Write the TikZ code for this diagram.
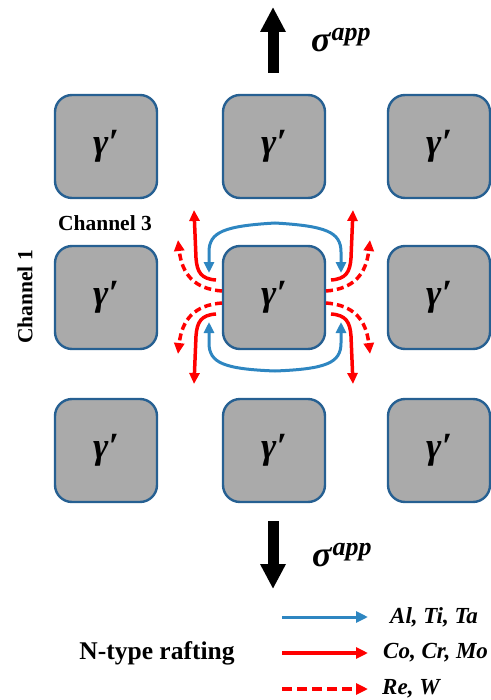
\documentclass[tikz,border=0pt]{standalone}
\usepackage{fontspec}
\setmainfont{Liberation Serif}
\usetikzlibrary{arrows.meta}
\definecolor{grain}{RGB}{170,170,170}
\definecolor{grainedge}{RGB}{38,96,146}
\definecolor{flowblue}{RGB}{46,134,193}
\definecolor{flowred}{RGB}{255,0,0}
\newcommand{\gammaprime}{γ′}
\newcommand{\sigmaapp}{σ\kern1pt\raisebox{0.33em}{\fontsize{26}{26}\selectfont app}}
\tikzset{
  precip/.style={draw=grainedge, line width=2.4pt, fill=grain, rounded corners=17pt,
    minimum width=102pt, minimum height=103pt, inner sep=0pt,
    font=\bfseries\itshape\fontsize{37}{38}\selectfont},
  blueflow/.style={draw=flowblue, line width=3pt, {Triangle[length=11pt,width=10pt]}-{Triangle[length=11pt,width=10pt]}},
  redflow/.style={draw=flowred, line width=3.5pt, -{Triangle[length=11pt,width=10pt]}},
  reddash/.style={redflow, dash pattern=on 7pt off 4pt},
  legblue/.style={draw=flowblue, line width=3pt, -{Triangle[length=12pt,width=11pt]}},
  legred/.style={draw=flowred, line width=3.5pt, -{Triangle[length=12pt,width=11pt]}},
  legdash/.style={legred, dash pattern=on 10pt off 5pt},
  stress/.style={draw=black, line width=11pt, -{Triangle[length=25pt,width=24pt]}},
  chlabel/.style={font=\bfseries\fontsize{21.5}{24}\selectfont, inner sep=0pt},
  leglabel/.style={font=\bfseries\itshape\fontsize{23}{26}\selectfont, inner sep=0pt, anchor=west},
  sigmalabel/.style={font=\bfseries\itshape\fontsize{36}{38}\selectfont, inner sep=0pt, anchor=west}
}
\begin{document}
\begin{tikzpicture}[x=1pt,y=-1pt]
\useasboundingbox (0,0) rectangle (490,700);
% precipitates
\node[precip] (p11) at (106,146.5) {\gammaprime};
\node[precip] (p12) at (274,146.5) {\gammaprime};
\node[precip] (p13) at (439,146.5) {\gammaprime};
\node[precip] (p21) at (106,297.5) {\gammaprime};
\node[precip] (p22) at (274,297.5) {\gammaprime};
\node[precip] (p23) at (439,297.5) {\gammaprime};
\node[precip] (p31) at (106,450.5) {\gammaprime};
\node[precip] (p32) at (274,450.5) {\gammaprime};
\node[precip] (p33) at (439,450.5) {\gammaprime};
% channel labels
\node[chlabel] (ch3) at (105,223) {Channel 3};
\node[chlabel, rotate=90] (ch1) at (25,297) {Channel 1};
% applied stress
\coordinate (upbase) at (273,73);
\coordinate (uptip) at (273,7);
\coordinate (dnbase) at (273,521);
\coordinate (dntip) at (273,589);
\draw[stress] (upbase) -- (uptip);
\draw[stress] (dnbase) -- (dntip);
\node[sigmalabel] (sigup) at (311,40) {\sigmaapp};
\node[sigmalabel] (sigdn) at (312,555) {\sigmaapp};
% blue flows (Al, Ti, Ta)
\coordinate (btl) at (209,273);
\coordinate (btr) at (341,273);
\coordinate (bbl) at (209,322);
\coordinate (bbr) at (341,322);
\draw[blueflow] (btl) -- (209,252) .. controls (209,232) and (224,226) .. (275,223)
   .. controls (326,226) and (341,232) .. (341,252) -- (btr);
\draw[blueflow] (bbl) -- (209,343) .. controls (209,363) and (224,369) .. (275,371)
   .. controls (326,369) and (341,363) .. (341,343) -- (bbr);
% red solid flows (Co, Cr, Mo)
\coordinate (rs1) at (216,280);  \coordinate (rt1) at (194,210);
\coordinate (rs2) at (216,314);  \coordinate (rt2) at (194,384);
\coordinate (rs3) at (331,280);  \coordinate (rt3) at (353,210);
\coordinate (rs4) at (331,314);  \coordinate (rt4) at (353,384);
\draw[redflow] (rs1) .. controls (201,279) and (197,272) .. (196,258) -- (rt1);
\draw[redflow] (rs2) .. controls (201,315) and (197,322) .. (196,336) -- (rt2);
\draw[redflow] (rs3) .. controls (346,279) and (350,272) .. (351,258) -- (rt3);
\draw[redflow] (rs4) .. controls (346,315) and (350,322) .. (351,336) -- (rt4);
% red dashed flows (Re, W)
\coordinate (ds1) at (222,291);  \coordinate (dt1) at (178,240);
\coordinate (ds2) at (222,303);  \coordinate (dt2) at (178,354);
\coordinate (ds3) at (326,291);  \coordinate (dt3) at (370,240);
\coordinate (ds4) at (326,303);  \coordinate (dt4) at (370,354);
\draw[reddash] (ds1) .. controls (195,289) and (182,275) .. (dt1);
\draw[reddash] (ds2) .. controls (195,305) and (182,319) .. (dt2);
\draw[reddash] (ds3) .. controls (353,289) and (366,275) .. (dt3);
\draw[reddash] (ds4) .. controls (353,305) and (366,319) .. (dt4);
% legend
\node[font=\bfseries\fontsize{25.5}{28}\selectfont, inner sep=0pt] (ntype) at (157,653) {N-type rafting};
\coordinate (l1a) at (282,617); \coordinate (l1b) at (368,617);
\coordinate (l2a) at (282,653); \coordinate (l2b) at (368,653);
\coordinate (l3a) at (282,689); \coordinate (l3b) at (368,689);
\draw[legblue] (l1a) -- (l1b);
\draw[legred] (l2a) -- (l2b);
\draw[legdash] (l3a) -- (l3b);
\node[leglabel] (lab1) at (390,617) {Al, Ti, Ta};
\node[leglabel] (lab2) at (383,653) {Co, Cr, Mo};
\node[leglabel] (lab3) at (382,689) {Re, W};
\end{tikzpicture}
\end{document}
